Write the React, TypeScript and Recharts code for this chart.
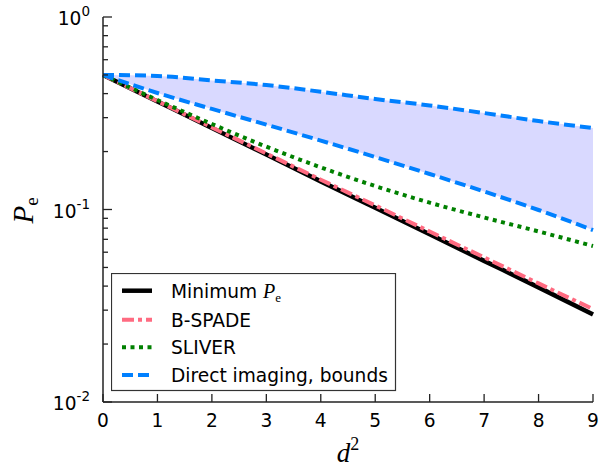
import React from 'react';
import { ComposedChart, Line, Area, XAxis, YAxis, Legend } from 'recharts';

const dSquared = [0, 1, 2, 3, 4, 5, 6, 7, 8, 9];
const minimumPe = [0.5, 0.364, 0.265, 0.193, 0.14, 0.102, 0.0743, 0.0541, 0.0394, 0.0285];
const bSpade = [0.5, 0.365, 0.267, 0.1954, 0.1428, 0.105, 0.0768, 0.0564, 0.0413, 0.0304];
const sliver = [0.5, 0.3705, 0.278, 0.212, 0.1656, 0.1324, 0.1085, 0.0909, 0.0769, 0.0646];
const directLower = [0.5, 0.403, 0.333, 0.276, 0.228, 0.1874, 0.1529, 0.124, 0.0994, 0.0782];
const directUpper = [0.5, 0.494, 0.468, 0.443, 0.409, 0.375, 0.347, 0.317, 0.288, 0.265];

const xTicks = [0, 1, 2, 3, 4, 5, 6, 7, 8, 9];
const yMajorTicks = [0.01, 0.1, 1];
const yMinorTicks = [0.02, 0.03, 0.04, 0.05, 0.06, 0.07, 0.08, 0.09, 0.2, 0.3, 0.4, 0.5, 0.6, 0.7, 0.8, 0.9];
const yTicks = [...yMajorTicks, ...yMinorTicks].sort((a, b) => a - b);

const data = dSquared.map((d, i) => ({
  d,
  min: minimumPe[i],
  bspade: bSpade[i],
  sliver: sliver[i],
  lo: directLower[i],
  hi: directUpper[i],
  band: [directLower[i], directUpper[i]],
}));

const AXIS = '#222';
const SANS = 'DejaVu Sans';
const SERIF = 'Liberation Serif';
const BLACK = '#000000';
const PINK = '#ff6b81';
const GREEN = '#008000';
const BLUE = '#0080ff';
const BAND = '#d9d9ff';
const FS = 18.6;

const isMajor = (v: number) => yMajorTicks.some((m) => Math.abs(m - v) < 1e-9);

const XTickBottom = (props: any) => {
  const { x, y, payload } = props;
  return (
    <g>
      <line x1={x} x2={x} y1={y} y2={y - 8} stroke={AXIS} strokeWidth={1.3} />
      <text x={x} y={y + 25} textAnchor="middle" fontFamily={SANS} fontSize={FS} fill="#000">
        {payload.value}
      </text>
    </g>
  );
};

const XTickTop = (props: any) => {
  const { x, y } = props;
  return <line x1={x} x2={x} y1={y} y2={y + 8} stroke={AXIS} strokeWidth={1.3} />;
};

const YTickLeft = (props: any) => {
  const { x, y, payload } = props;
  const v = payload.value as number;
  const major = isMajor(v);
  const exp = Math.round(Math.log10(v));
  return (
    <g>
      <line x1={x} x2={x + (major ? 9 : 5)} y1={y} y2={y} stroke={AXIS} strokeWidth={1.3} />
      {major && (
        <text x={x - 13} y={y + 8} textAnchor="end" fontFamily={SANS} fontSize={FS} fill="#000">
          10
          <tspan fontSize={13.5} dy={-9}>
            {String(exp)}
          </tspan>
        </text>
      )}
    </g>
  );
};

const YTickRight = (props: any) => {
  const { x, y, payload } = props;
  const major = isMajor(payload.value);
  return <line x1={x} x2={x - (major ? 9 : 5)} y1={y} y2={y} stroke={AXIS} strokeWidth={1.3} />;
};

const XLabel = (props: any) => {
  const vb = props.viewBox || {};
  const cx = vb.x + vb.width / 2;
  const by = vb.y + 60;
  return (
    <text x={cx} y={by} textAnchor="middle" fontFamily={SERIF} fontSize={27} fill="#000">
      <tspan fontStyle="italic">d</tspan>
      <tspan fontSize={18} dy={-12}>2</tspan>
    </text>
  );
};

const YLabel = (props: any) => {
  const vb = props.viewBox || {};
  const cx = vb.x + 33;
  const cy = vb.y + vb.height / 2 + 1;
  return (
    <text
      x={cx}
      y={cy}
      textAnchor="middle"
      transform={`rotate(-90, ${cx}, ${cy})`}
      fontFamily={SERIF}
      fontSize={29}
      fill="#000"
    >
      <tspan fontStyle="italic">P</tspan>
      <tspan fontSize={19} dy={5}>e</tspan>
    </text>
  );
};

const legendRows = [
  { key: 'min', color: BLACK, dash: undefined as string | undefined, width: 4.5 },
  { key: 'bspade', color: PINK, dash: '12 4 4 4', width: 4 },
  { key: 'sliver', color: GREEN, dash: '4 4.5', width: 4 },
  { key: 'hi', color: BLUE, dash: '11 5', width: 4 },
];

const LegendBox = () => {
  const rowY = [17.7, 46.7, 74.3, 102];
  return (
    <svg width={286} height={119} style={{ display: 'block' }}>
      <rect x={0.5} y={0.5} width={284} height={117} fill="#fff" stroke="#333" strokeWidth={1.2} />
      {legendRows.map((r, i) => (
        <g key={r.key}>
          <line
            x1={11}
            x2={41}
            y1={rowY[i]}
            y2={rowY[i]}
            stroke={r.color}
            strokeWidth={r.width}
            strokeDasharray={r.dash}
          />
          <text x={60} y={rowY[i] + 6.8} fontFamily={SANS} fontSize={FS} fill="#000">
            {i === 0 && (
              <>
                Minimum{' '}
                <tspan fontFamily={SERIF} fontStyle="italic" fontSize={20}>
                  P
                </tspan>
                <tspan fontFamily={SERIF} fontSize={13} dy={4}>
                  e
                </tspan>
              </>
            )}
            {i === 1 && 'B-SPADE'}
            {i === 2 && 'SLIVER'}
            {i === 3 && 'Direct imaging, bounds'}
          </text>
        </g>
      ))}
    </svg>
  );
};

export default function App() {
  return (
    <div style={{ position: 'absolute', left: 0, top: 0, width: 606, height: 468, background: '#fff' }}>
      <ComposedChart
        width={606}
        height={468}
        data={data}
        margin={{ top: 17, right: 13, bottom: 0, left: 0 }}
      >
        <XAxis
          xAxisId="bottom"
          dataKey="d"
          type="number"
          domain={[0, 9]}
          ticks={xTicks}
          interval={0}
          height={66}
          tickSize={0}
          tickMargin={0}
          tickLine={false}
          axisLine={{ stroke: AXIS, strokeWidth: 1.5 }}
          tick={(p: any) => <XTickBottom {...p} />}
          label={(p: any) => <XLabel {...p} />}
        />
        <XAxis
          xAxisId="top"
          orientation="top"
          dataKey="d"
          type="number"
          domain={[0, 9]}
          ticks={xTicks}
          interval={0}
          height={0}
          tickSize={0}
          tickMargin={0}
          tickLine={false}
          axisLine={{ stroke: AXIS, strokeWidth: 1.5 }}
          tick={(p: any) => <XTickTop {...p} />}
        />
        <YAxis
          yAxisId="left"
          type="number"
          scale="log"
          domain={[0.01, 1]}
          allowDataOverflow
          ticks={yTicks}
          interval={0}
          width={103}
          tickSize={0}
          tickMargin={0}
          tickLine={false}
          axisLine={{ stroke: AXIS, strokeWidth: 1.5 }}
          tick={(p: any) => <YTickLeft {...p} />}
          label={(p: any) => <YLabel {...p} />}
        />
        <YAxis
          yAxisId="right"
          orientation="right"
          type="number"
          scale="log"
          domain={[0.01, 1]}
          allowDataOverflow
          ticks={yTicks}
          interval={0}
          width={0}
          tickSize={0}
          tickMargin={0}
          tickLine={false}
          axisLine={{ stroke: AXIS, strokeWidth: 1.5 }}
          tick={(p: any) => <YTickRight {...p} />}
        />
        <Area
          xAxisId="bottom"
          yAxisId="left"
          dataKey="band"
          type="monotone"
          fill={BAND}
          fillOpacity={1}
          stroke="none"
          legendType="none"
          isAnimationActive={false}
        />
        <Line xAxisId="bottom" yAxisId="left" dataKey="min" type="monotone" stroke={BLACK} strokeWidth={4.5} dot={false} isAnimationActive={false} />
        <Line xAxisId="bottom" yAxisId="left" dataKey="bspade" type="monotone" stroke={PINK} strokeWidth={4} strokeDasharray="12 4 4 4" dot={false} isAnimationActive={false} />
        <Line xAxisId="bottom" yAxisId="left" dataKey="sliver" type="monotone" stroke={GREEN} strokeWidth={4} strokeDasharray="4 4.5" dot={false} isAnimationActive={false} />
        <Line xAxisId="bottom" yAxisId="left" dataKey="lo" type="monotone" stroke={BLUE} strokeWidth={4} strokeDasharray="11 5" dot={false} legendType="none" isAnimationActive={false} />
        <Line xAxisId="bottom" yAxisId="left" dataKey="hi" type="monotone" stroke={BLUE} strokeWidth={4} strokeDasharray="11 5" dot={false} isAnimationActive={false} />
        <Legend
          layout="vertical"
          align="center"
          verticalAlign="middle"
          width={286}
          height={119}
          wrapperStyle={{ left: 111, top: 273, width: 286, height: 119 }}
          content={() => <LegendBox />}
        />
      </ComposedChart>
    </div>
  );
}
